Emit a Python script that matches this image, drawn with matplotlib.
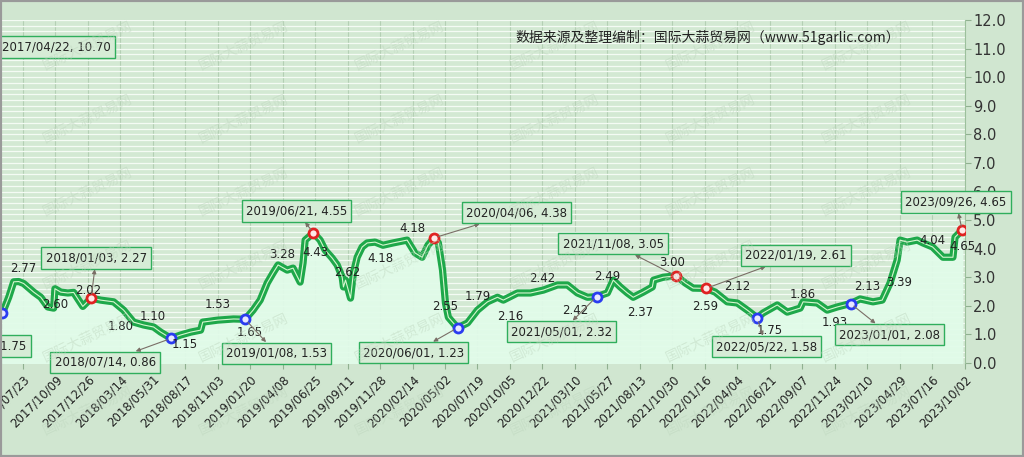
import numpy as np
import pandas as pd
import matplotlib
matplotlib.use("Agg")
import matplotlib.pyplot as plt
from matplotlib.patches import Rectangle

# price series (yuan/kg)
dates = [
    "2017/06/04", "2017/06/19", "2017/07/01", "2017/07/13", "2017/07/25", "2017/08/18",
    "2017/09/04", "2017/09/21", "2017/10/05", "2017/10/08", "2017/10/22", "2017/11/08",
    "2017/11/22", "2017/12/04", "2017/12/14", "2018/01/03", "2018/01/26", "2018/02/26",
    "2018/03/22", "2018/04/15", "2018/05/09", "2018/06/02", "2018/06/19", "2018/07/14",
    "2018/08/06", "2018/08/30", "2018/09/23", "2018/09/28", "2018/11/03", "2018/12/11",
    "2019/01/08", "2019/01/27", "2019/02/13", "2019/03/02", "2019/03/16", "2019/03/28",
    "2019/04/19", "2019/05/03", "2019/05/20", "2019/05/27", "2019/06/01", "2019/06/21",
    "2019/07/07", "2019/07/19", "2019/08/05", "2019/08/17", "2019/08/29", "2019/09/01",
    "2019/09/06", "2019/09/18", "2019/09/25", "2019/10/04", "2019/10/16", "2019/10/28",
    "2019/11/16", "2019/12/05", "2019/12/29", "2020/02/01", "2020/02/20", "2020/03/08",
    "2020/03/22", "2020/04/06", "2020/04/16", "2020/04/26", "2020/05/03", "2020/05/10",
    "2020/06/01", "2020/06/25", "2020/07/19", "2020/08/12", "2020/09/05", "2020/09/19",
    "2020/10/23", "2020/11/23", "2020/12/24", "2021/01/27", "2021/02/20", "2021/03/16",
    "2021/04/09", "2021/05/01", "2021/05/27", "2021/06/10", "2021/06/27", "2021/07/14",
    "2021/07/28", "2021/08/21", "2021/09/12", "2021/09/15", "2021/10/08", "2021/11/08",
    "2021/11/30", "2021/12/19", "2022/01/19", "2022/02/10", "2022/03/11", "2022/04/04",
    "2022/04/28", "2022/05/22", "2022/06/05", "2022/07/09", "2022/08/02", "2022/09/02",
    "2022/09/09", "2022/10/13", "2022/11/06", "2022/11/30", "2023/01/01", "2023/01/24",
    "2023/02/24", "2023/03/18", "2023/04/06", "2023/04/23", "2023/04/30", "2023/05/17",
    "2023/06/10", "2023/06/24", "2023/07/17", "2023/08/11", "2023/09/04", "2023/09/09",
    "2023/09/26",
]
prices = [
    1.75, 2.30, 2.84, 2.85, 2.78, 2.48,
    2.30, 1.96, 1.92, 2.60, 2.48, 2.45,
    2.47, 2.20, 1.98, 2.27, 2.20, 2.14,
    1.85, 1.43, 1.33, 1.26, 1.08, 0.86,
    0.98, 1.08, 1.15, 1.43, 1.50, 1.54,
    1.53, 1.85, 2.20, 2.80, 3.15, 3.43,
    3.25, 3.32, 2.83, 3.50, 4.30, 4.55,
    4.30, 3.95, 3.67, 3.43, 3.00, 2.66,
    2.90, 2.27, 3.15, 3.70, 4.06, 4.20,
    4.23, 4.12, 4.20, 4.30, 3.85, 3.70,
    4.12, 4.38, 4.20, 3.25, 2.10, 1.60,
    1.23, 1.40, 1.85, 2.14, 2.30, 2.20,
    2.45, 2.45, 2.55, 2.73, 2.73, 2.45,
    2.30, 2.32, 2.45, 2.90, 2.66, 2.45,
    2.30, 2.48, 2.66, 2.90, 3.00, 3.05,
    2.80, 2.62, 2.61, 2.48, 2.14, 2.10,
    1.85, 1.58, 1.75, 2.03, 1.78, 1.92,
    2.14, 2.10, 1.85, 1.96, 2.08, 2.24,
    2.14, 2.20, 2.80, 3.60, 4.30, 4.23,
    4.30, 4.20, 4.06, 3.70, 3.70, 4.40,
    4.65,
]

# highs (red) and lows (blue) with their label boxes
high_dates = ["2018/01/03", "2019/06/21", "2020/04/06", "2021/11/08", "2022/01/19", "2023/09/26"]
high_vals = [2.27, 4.55, 4.38, 3.05, 2.61, 4.65]
low_dates = ["2017/06/04", "2018/07/14", "2019/01/08", "2020/06/01", "2021/05/01", "2022/05/22", "2023/01/01"]
low_vals = [1.75, 0.86, 1.53, 1.23, 2.32, 1.58, 2.08]
peak_date, peak_val = "2017/04/22", 10.70  # outside the visible range

# box offsets from the point (pixels, right / up)
high_offsets = [(5, 40), (-17, 22), (82, 25), (-63, 32), (90, 33), (-6, 28)]
low_offsets = [(24, -33), (-66, -24), (31, -34), (-44, -25), (-35, -35), (9, -29), (39, -31)]

tick_labels = [
    "2017/07/23", "2017/10/09", "2017/12/26", "2018/03/14", "2018/05/31", "2018/08/17",
    "2018/11/03", "2019/01/20", "2019/04/08", "2019/06/25", "2019/09/11", "2019/11/28",
    "2020/02/14", "2020/05/02", "2020/07/19", "2020/10/05", "2020/12/22", "2021/03/10",
    "2021/05/27", "2021/08/13", "2021/10/30", "2022/01/16", "2022/04/04", "2022/06/21",
    "2022/09/07", "2022/11/24", "2023/02/10", "2023/04/29", "2023/07/16", "2023/10/02",
]

# small value labels at tick dates (+ last point)
label_dates = tick_labels[:-1] + ["2023/09/26"]
label_vals = [
    2.77, 2.60, 2.02, 1.80, 1.10, 1.15, 1.53, 1.65, 3.28, 4.43,
    2.62, 4.18, 4.18, 2.55, 1.79, 2.16, 2.42, 2.42, 2.49, 2.37,
    3.00, 2.59, 2.12, 1.75, 1.86, 1.93, 2.13, 3.39, 4.04, 4.65,
]
label_y = [
    3.32, 2.06, 2.55, 1.26, 1.64, 0.63, 2.06, 1.05, 3.81, 3.88,
    3.15, 3.64, 4.72, 1.96, 2.31, 1.61, 2.97, 1.82, 3.01, 1.78,
    3.53, 1.99, 2.66, 1.15, 2.38, 1.40, 2.66, 2.80, 4.30, 4.06,
]

x = pd.to_datetime(dates, format="%Y/%m/%d")
ticks = pd.to_datetime(tick_labels, format="%Y/%m/%d")

fig = plt.figure(figsize=(10.24, 4.57), dpi=100)
fig.patch.set_facecolor("#d0e6d0")
ax = fig.add_axes([0.002, 0.2057, 0.940, 0.7505])
ax.set_facecolor("#d3e9d3")

# faint watermark
for wy in np.arange(0.10, 0.95, 0.16):
    for wx in np.arange(0.04, 0.86, 0.152):
        fig.text(wx, 1 - wy, "国际大蒜贸易网", rotation=25, fontsize=10,
                 family=["Noto Sans CJK SC", "DejaVu Sans"], color="#bdd5bd",
                 alpha=0.45, ha="left", va="center", zorder=0)

ax.set_xlim(pd.Timestamp("2017-06-03"), ticks[-1])
ax.set_ylim(0, 12)

ax.set_yticks(np.arange(0, 12.1, 1.0))
ax.set_yticks(np.arange(0, 12.01, 0.2), minor=True)
ax.yaxis.set_major_formatter(plt.FuncFormatter(lambda v, p: f"{v:.1f}"))
ax.yaxis.tick_right()
ax.grid(which="both", axis="y", color="#f4fbf4", lw=0.9, zorder=0)
ax.set_xticks(ticks)
ax.set_xticklabels(tick_labels, rotation=45, ha="right", rotation_mode="anchor", fontsize=8.5, color="#222222")
ax.grid(which="major", axis="x", color="#b4d0b4", lw=0.8, zorder=0)
ax.tick_params(axis="y", which="major", labelsize=10.5, labelcolor="#333333", color="#90b090", length=4, pad=2)
ax.tick_params(axis="y", which="minor", length=0)
ax.tick_params(axis="x", color="#90b090", length=4, pad=3)
for s in ["top", "left", "bottom"]:
    ax.spines[s].set_visible(False)
ax.spines["right"].set_color("#9cc09c")

ax.fill_between(x, prices, 0, color="#e1fbe9", alpha=0.95, zorder=2)
ax.plot(x, prices, color="#1ea84a", lw=5.2, solid_joinstyle="round", solid_capstyle="round", zorder=3)
ax.plot(x, prices, color="#d6f6cf", lw=0.8, zorder=4)

hx = pd.to_datetime(high_dates, format="%Y/%m/%d")
lx = pd.to_datetime(low_dates, format="%Y/%m/%d")
ax.scatter(hx, high_vals, s=42, facecolor="#ffe8e8", edgecolor="#e02222", lw=2, zorder=6)
ax.scatter(lx, low_vals, s=42, facecolor="#e8e8ff", edgecolor="#2a3cf0", lw=2, zorder=6, clip_on=False)

box = dict(boxstyle="square,pad=0.35", fc="#d6ecd6", ec="#2fae5c", lw=1)
arrow = dict(arrowstyle="<|-", color="#7a6e66", lw=0.8, mutation_scale=6, shrinkA=0, shrinkB=3)

for d, v, (dx, dy) in zip(high_dates, high_vals, high_offsets):
    ax.annotate(f"{d}, {v:.2f}", xy=(pd.Timestamp(d.replace("/", "-")), v),
                xytext=(dx * 0.72, dy * 0.72), textcoords="offset points",
                ha="center", va="center", fontsize=8.5, color="#222222",
                bbox=box, arrowprops=arrow, zorder=7)
for i, (d, v, (dx, dy)) in enumerate(zip(low_dates, low_vals, low_offsets)):
    ax.annotate(f"{d}, {v:.2f}", xy=(pd.Timestamp(d.replace("/", "-")), v),
                xytext=(dx * 0.72, dy * 0.72), textcoords="offset points",
                ha="right" if i == 0 else "center", va="center", fontsize=8.5, color="#222222",
                bbox=box, arrowprops=None if i == 0 else arrow, zorder=7,
                annotation_clip=False)

ax.text(0.0, 0.921, f"{peak_date}, {peak_val:.2f}", transform=ax.transAxes,
        ha="left", va="center", fontsize=8.5, color="#222222", bbox=box, zorder=7)

for d, v, yy in zip(label_dates, label_vals, label_y):
    ax.text(pd.Timestamp(d.replace("/", "-")), yy, f"{v:.2f}", ha="center", va="center",
            fontsize=8.5, color="#222222", zorder=6)

fig.text(515 / 1024, 1 - 37 / 457, "数据来源及整理编制：国际大蒜贸易网（www.51garlic.com）",
         fontsize=10, family=["Noto Sans CJK SC", "DejaVu Sans"], color="#222222",
         ha="left", va="center")

fig.patches.append(Rectangle((0, 0), 1, 1, transform=fig.transFigure, fill=False,
                             ec="#9a9a9a", lw=3, zorder=10))

fig.savefig("out.png", dpi=100, facecolor=fig.get_facecolor())
